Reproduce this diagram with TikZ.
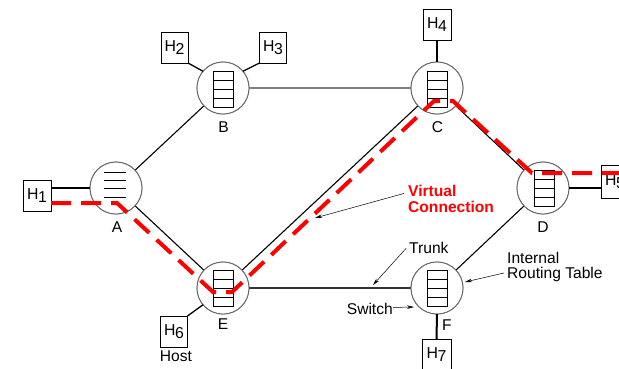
\documentclass[tikz,border=0pt]{standalone}
\usepackage{fontspec}
\setmainfont{Liberation Sans}
\usetikzlibrary{arrows.meta,calc}
\definecolor{vcred}{RGB}{255,0,0}
% host name with lowered index digit
\newcommand\hostname[1]{H\kern-0.4pt\raisebox{-3pt}{#1}}
% routing table drawn inside a switch
\newcommand\rtable[1]{%
  \draw[tabframe] ($(#1)+(-10,-18)$) rectangle ($(#1)+(10,18)$);
  \foreach \k in {-9,0,9} {\draw[tabframe] ($(#1)+(-10,\k)$) -- ($(#1)+(10,\k)$);}}
\begin{document}
\begin{tikzpicture}[x=1pt,y=-1pt,
  switch/.style={circle,draw=black!60,line width=0.9pt,fill=white,minimum size=52pt,inner sep=0pt,outer sep=0pt},
  host/.style={rectangle,draw=black,line width=0.8pt,fill=white,minimum width=27pt,minimum height=31pt,inner sep=0pt,outer sep=0pt,font=\fontsize{15.8}{16}\selectfont},
  link/.style={line width=1.1pt},
  access/.style={line width=2pt},
  spur/.style={line width=1.3pt},
  txt/.style={font=\fontsize{15.6}{16}\selectfont,inner sep=0pt},
  vctext/.style={inner sep=0pt,font=\fontsize{15.6}{16}\selectfont\bfseries,text=vcred},
  pointer/.style={line width=0.5pt,-{Stealth[length=7pt,width=3.5pt]}},
  vcpath/.style={draw=vcred,line width=4pt,dash pattern=on 20pt off 10pt},
  tabframe/.style={line width=0.9pt}
]
\useasboundingbox (0,0) rectangle (619,368);
\fill[white] (0,0) rectangle (619,368);
\clip (0,0) rectangle (619,368);

% switches
\node[switch] (A) at (116,188) {};
\node[switch] (B) at (223,88) {};
\node[switch] (C) at (437,88) {};
\node[switch] (D) at (543,188) {};
\node[switch] (E) at (223,288) {};
\node[switch] (F) at (437,288) {};

% trunks between switches
\draw[link] (A) -- (B);
\draw[link,draw=black!50] (B) -- (C);
\draw[link] (A) -- (E);
\draw[link] (E) -- (C);
\draw[link] (C) -- (D);
\draw[link] (D) -- (F);
\draw[link,draw=black!80] (E) -- (F);

% switches drawn again over the trunk ends
\foreach \s in {A,B,C,D,E,F} {\draw[draw=black!60,line width=0.9pt,fill=white] (\s) circle[radius=26pt];}

% routing tables
\foreach \k in {-16,-8,0,9} {\draw[tabframe] ($(A)+(-12,\k)$) -- ($(A)+(10,\k)$);}
\rtable{$(B)+(0.5,1)$}
\rtable{$(C)+(0.5,1)$}
\rtable{$(D)+(1,0.5)$}
\rtable{$(E)+(0.5,0)$}
\rtable{$(F)+(0.5,0)$}

% hosts
\node[host,minimum width=28pt] (H1) at (37,196) {\hostname{1}};
\node[host] (H2) at (174.5,47.5) {\hostname{2}};
\node[host] (H3) at (273,47.5) {\hostname{3}};
\node[host,minimum width=28pt] (H4) at (437,24.5) {\hostname{4}};
\node[host,minimum width=28pt,minimum height=33pt] (H5) at (615,181.5) {\hostname{5}};
\node[host] (H6) at (174,331.5) {\hostname{6}};
\node[host,minimum width=29pt,minimum height=32pt] (H7) at (436.5,355) {\hostname{7}};

% host access lines
\draw[access] (H1.east |- A.west) -- (A.west);
\draw[spur] (H2.south east) -- (B.140);
\draw[spur] (H3.south west) -- (B.40);
\draw[access] (H4.south) -- (C.north);
\draw[access] (D.east) -- (H5.west |- D.east);
\draw[spur] (H6.north east) -- (E.220);
\draw[access] (F.south) -- (H7.north);

% virtual connection H1 - A - E - C - D - H5
\draw[vcpath] ($(H1.east)+(0,7)$) -- ($(A)+(1,15)$) -- ($(E)+(-10,4)$) -- ($(E)+(9,4)$)
  -- ($(C)+(-3,13)$) -- ($(C)+(16,13)$) -- ($(D)+(-11,-15)$) -- ($(D)+(82,-15)$);

% switch names
\node[txt,anchor=base] (lA) at (117,232) {A};
\node[txt,anchor=base] (lB) at (223.5,132) {B};
\node[txt,anchor=base] (lC) at (437.5,132) {C};
\node[txt,anchor=base] (lD) at (543,232) {D};
\node[txt,anchor=base] (lE) at (223,329) {E};
\node[txt,anchor=base] (lF) at (447,330) {F};
\node[txt,anchor=base] (host) at (176,361) {Host};

% annotations
\node[vctext,anchor=base west] (vc1) at (408,196) {Virtual};
\node[vctext,anchor=base west] (vc2) at (408,212) {Connection};
\node[txt,anchor=base west] (trunk) at (409,253) {Trunk};
\node[txt,anchor=base west] (irt1) at (507,263) {Internal};
\node[txt,anchor=base west] (irt2) at (507,278) {Routing Table};
\node[txt,anchor=base east] (sw) at (393,314) {Switch};

\coordinate (vctip) at (315,218);
\coordinate (trunktip) at (373,285);
\coordinate (irttip) at (465,282);
\coordinate (swtip) at (414,307);

\draw[pointer] ($(vc1.west)+(-4,3)$) -- (vctip);
\draw[pointer] ($(trunk.west)+(-3,1)$) -- (trunktip);
\draw[pointer] ($(irt2.west)+(-3,-1)$) -- (irttip);
\draw[pointer] ($(sw.east)+(0,-1)$) -- (swtip);
\end{tikzpicture}
\end{document}
